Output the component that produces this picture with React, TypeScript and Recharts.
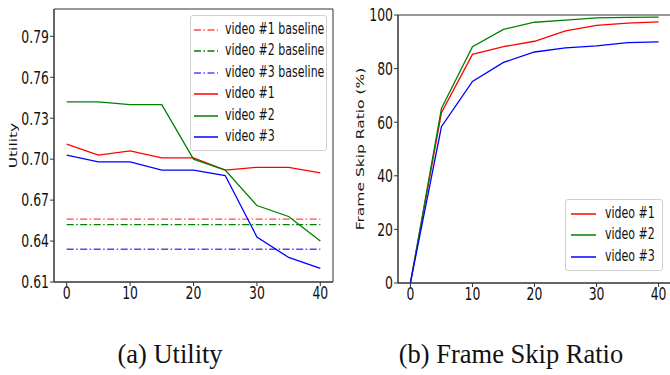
import { CartesianGrid, Label, Legend, Line, LineChart, XAxis, YAxis } from 'recharts';

const xs = [0, 5, 10, 15, 20, 25, 30, 35, 40];
const xTicks = [0, 10, 20, 30, 40];

// (a) utility
const utilVideo1 = [0.711, 0.703, 0.706, 0.701, 0.701, 0.692, 0.694, 0.694, 0.69];
const utilVideo2 = [0.742, 0.742, 0.74, 0.74, 0.7, 0.692, 0.666, 0.658, 0.64];
const utilVideo3 = [0.703, 0.698, 0.698, 0.692, 0.692, 0.688, 0.643, 0.628, 0.62];
const utilBaselines = [0.656, 0.652, 0.634];
const utilTicks = [0.61, 0.64, 0.67, 0.7, 0.73, 0.76, 0.79];

// (b) frame skip ratio (%)
const skipVideo1 = [0, 63.5, 85.3, 88.2, 90.2, 94.1, 96.1, 97.0, 97.4];
const skipVideo2 = [0, 65.1, 88.2, 94.6, 97.3, 98.1, 98.9, 99.1, 99.2];
const skipVideo3 = [0, 58.3, 75.2, 82.3, 86.2, 87.7, 88.5, 89.7, 90.0];
const skipTicks = [0, 20, 40, 60, 80, 100];

const utilData = xs.map((x, i) => ({
  x,
  b1: utilBaselines[0],
  b2: utilBaselines[1],
  b3: utilBaselines[2],
  v1: utilVideo1[i],
  v2: utilVideo2[i],
  v3: utilVideo3[i],
}));

const skipData = xs.map((x, i) => ({ x, v1: skipVideo1[i], v2: skipVideo2[i], v3: skipVideo3[i] }));

const DASH_DOT = '7 2.5 1.5 2.5';
const SPINE = '#333';
const SQUEEZE = 0.71; // the source figure is squashed horizontally

const series: Record<string, { name: string; color: string; dash?: string }> = {
  b1: { name: 'video #1 baseline', color: '#ff4a4a', dash: DASH_DOT },
  b2: { name: 'video #2 baseline', color: '#008000', dash: DASH_DOT },
  b3: { name: 'video #3 baseline', color: '#4a4aff', dash: DASH_DOT },
  v1: { name: 'video #1', color: '#ff0000' },
  v2: { name: 'video #2', color: '#008000' },
  v3: { name: 'video #3', color: '#0000ff' },
};

function squeezedTick(dy: string, fmt?: (v: number) => string) {
  return ({ x, y, payload, textAnchor }: any) => (
    <g transform={`translate(${x},${y})`}>
      <text
        transform={`scale(${SQUEEZE},1)`}
        textAnchor={textAnchor}
        dy={dy}
        style={{ fontSize: 17.5, fill: '#111', fontFamily: 'DejaVu Sans' }}
      >
        {fmt ? fmt(payload.value) : payload.value}
      </text>
    </g>
  );
}

function axisTitle(text: string, dx: number) {
  return ({ viewBox }: any) => {
    const cy = viewBox.y + viewBox.height / 2;
    const cx = viewBox.x + dx;
    return (
      <text
        transform={`translate(${cx},${cy}) rotate(-90) scale(1,${SQUEEZE})`}
        textAnchor="middle"
        dominantBaseline="central"
        style={{ fontSize: 15.5, fill: '#111', fontFamily: 'DejaVu Sans' }}
      >
        {text}
      </text>
    );
  };
}

// frame = outer edges of the plot area
const frameH = ({ offset }: any) => [offset.top, offset.top + offset.height];
const frameV = ({ offset }: any) => [offset.left, offset.left + offset.width];

function legendBox(keys: string[], sampleX: number, sampleW: number, textX: number) {
  return () => (
    <div
      style={{
        border: '1px solid #d0d0d0',
        borderRadius: 3,
        background: 'rgba(255,255,255,0.85)',
        padding: '3px 0',
        fontFamily: 'DejaVu Sans',
        fontSize: 15.5,
        color: '#111',
      }}
    >
      {keys.map((k) => (
        <div key={k} style={{ position: 'relative', height: 21.4 }}>
          <svg style={{ position: 'absolute', left: sampleX, top: 9 }} width={sampleW} height={4}>
            <line x1={0} y1={2} x2={sampleW} y2={2} stroke={series[k].color} strokeWidth={1.5} strokeDasharray={series[k].dash} />
          </svg>
          <span
            style={{
              position: 'absolute',
              left: textX,
              top: 1,
              whiteSpace: 'nowrap',
              transform: `scaleX(${SQUEEZE})`,
              transformOrigin: 'left center',
            }}
          >
            {series[k].name}
          </span>
        </div>
      ))}
    </div>
  );
}

function UtilityChart() {
  return (
    <LineChart width={340} height={320} data={utilData} margin={{ top: 9, right: 7, left: 0, bottom: 8 }}>
      <CartesianGrid stroke={SPINE} horizontalCoordinatesGenerator={frameH} verticalCoordinatesGenerator={frameV} />
      <XAxis
        dataKey="x"
        type="number"
        domain={[-2, 42]}
        ticks={xTicks}
        height={30}
        tick={squeezedTick('0.71em')}
        tickSize={4}
        tickMargin={1}
        axisLine={{ stroke: SPINE }}
        tickLine={{ stroke: SPINE }}
      />
      <YAxis
        type="number"
        domain={[0.61, 0.81]}
        ticks={utilTicks}
        width={54}
        tick={squeezedTick('0.36em', (v) => v.toFixed(2))}
        tickSize={4}
        tickMargin={1}
        axisLine={{ stroke: SPINE }}
        tickLine={{ stroke: SPINE }}
      >
        <Label content={axisTitle('Utility', 13)} />
      </YAxis>
      {['b1', 'b2', 'b3', 'v1', 'v2', 'v3'].map((k) => (
        <Line
          key={k}
          dataKey={k}
          name={series[k].name}
          stroke={series[k].color}
          strokeWidth={1.3}
          strokeDasharray={series[k].dash}
          dot={false}
          activeDot={false}
          isAnimationActive={false}
        />
      ))}
      <Legend
        layout="vertical"
        align="center"
        verticalAlign="middle"
        content={legendBox(['b1', 'b2', 'b3', 'v1', 'v2', 'v3'], 3, 24, 34)}
        wrapperStyle={{ left: 190, top: 15, width: 137 }}
      />
    </LineChart>
  );
}

function SkipChart() {
  return (
    <LineChart width={349} height={321} data={skipData} margin={{ top: 15, right: 8, left: 0, bottom: 8 }}>
      <CartesianGrid stroke={SPINE} horizontalCoordinatesGenerator={frameH} verticalCoordinatesGenerator={frameV} />
      <XAxis
        dataKey="x"
        type="number"
        domain={[-2, 42]}
        ticks={xTicks}
        height={30}
        tick={squeezedTick('0.71em')}
        tickSize={4}
        tickMargin={1}
        axisLine={{ stroke: SPINE }}
        tickLine={{ stroke: SPINE }}
      />
      <YAxis
        type="number"
        domain={[0, 100]}
        ticks={skipTicks}
        width={68}
        tick={squeezedTick('0.36em')}
        tickSize={4}
        tickMargin={1}
        axisLine={{ stroke: SPINE }}
        tickLine={{ stroke: SPINE }}
      >
        <Label content={axisTitle('Frame Skip Ratio (%)', 30)} />
      </YAxis>
      {['v1', 'v2', 'v3'].map((k) => (
        <Line
          key={k}
          dataKey={k}
          name={series[k].name}
          stroke={series[k].color}
          strokeWidth={1.3}
          dot={false}
          activeDot={false}
          isAnimationActive={false}
        />
      ))}
      <Legend
        layout="vertical"
        align="center"
        verticalAlign="middle"
        content={legendBox(['v1', 'v2', 'v3'], 5, 25, 39)}
        wrapperStyle={{ left: 235, top: 199, width: 98 }}
      />
    </LineChart>
  );
}

const captionStyle = {
  position: 'absolute' as const,
  top: 339,
  fontFamily: "'Liberation Serif', 'Times New Roman', serif",
  fontSize: 26.5,
  color: '#111',
  whiteSpace: 'nowrap' as const,
  transform: 'translateX(-50%)',
};

export default function App() {
  return (
    <div style={{ position: 'absolute', left: 0, top: 0, width: 670, height: 375, overflow: 'hidden', background: '#fff' }}>
      <div style={{ position: 'absolute', left: 0, top: 0 }}>
        <UtilityChart />
      </div>
      <div style={{ position: 'absolute', left: 330, top: 0 }}>
        <SkipChart />
      </div>
      <div style={{ ...captionStyle, left: 170 }}>(a) Utility</div>
      <div style={{ ...captionStyle, left: 511 }}>(b) Frame Skip Ratio</div>
    </div>
  );
}
